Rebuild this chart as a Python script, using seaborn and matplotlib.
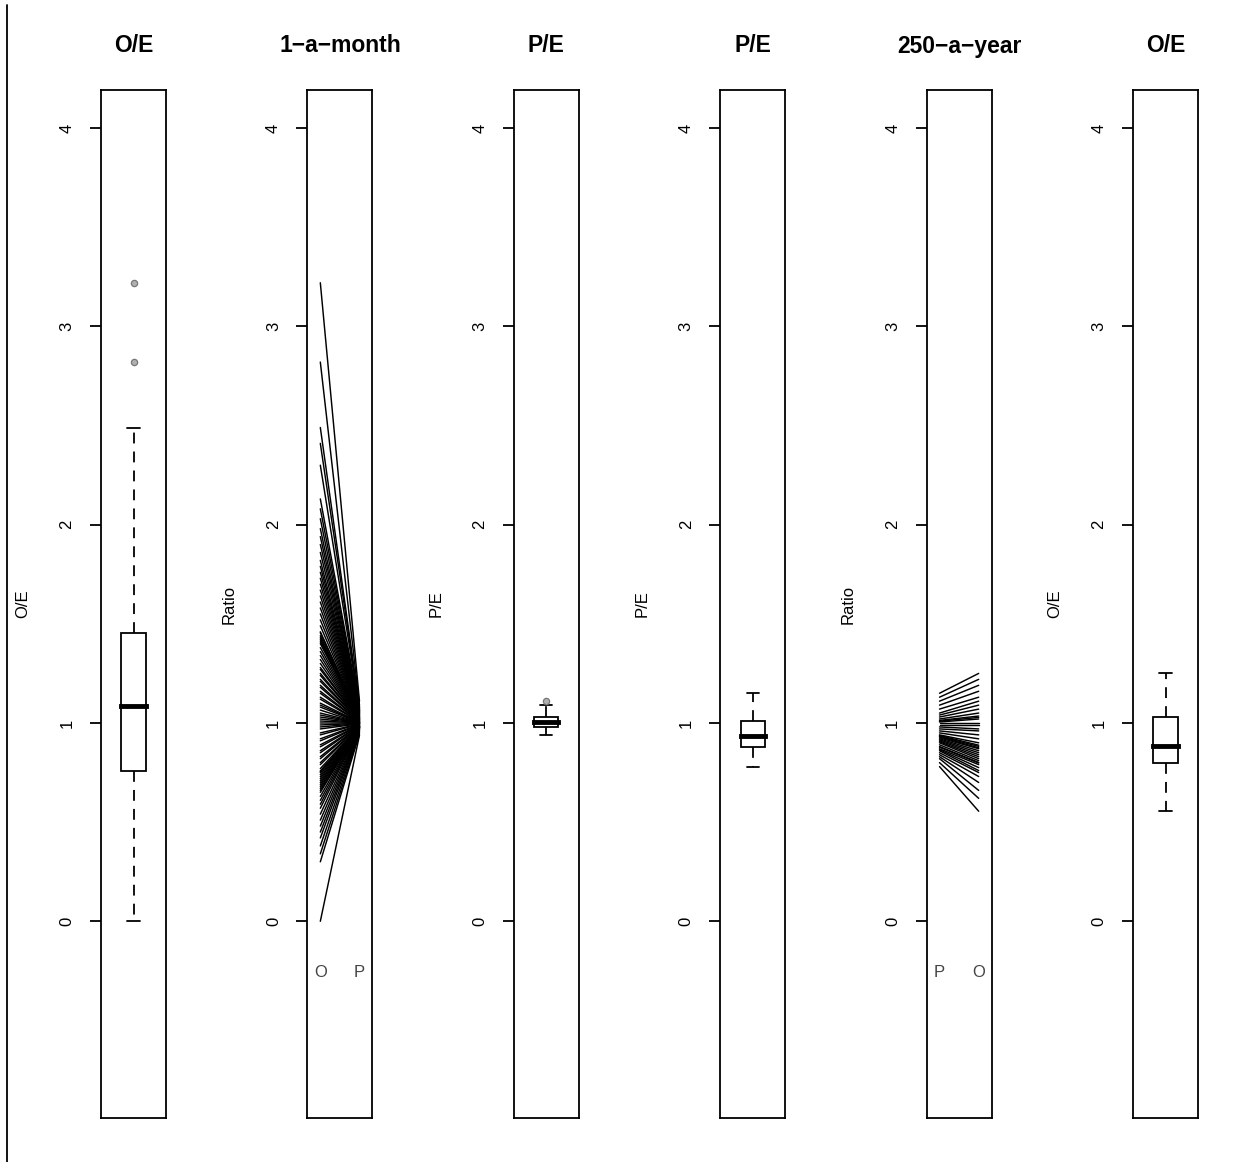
import matplotlib
matplotlib.use("Agg")
import matplotlib.pyplot as plt
import seaborn as sns
import pandas as pd
from matplotlib.lines import Line2D

# ---------------- data ----------------
titles = ["O/E", "1\u2212a\u2212month", "P/E", "P/E", "250\u2212a\u2212year", "O/E"]
ylabels = ["O/E", "Ratio", "P/E", "P/E", "Ratio", "O/E"]
yticks = [0, 1, 2, 3, 4]
month_pair_labels = ["O", "P"]
year_pair_labels = ["P", "O"]

# 1-a-month: observed / expected
month_oe = [
    0.00, 0.30, 0.34, 0.38, 0.42, 0.45, 0.48, 0.51, 0.54, 0.57,
    0.59, 0.61, 0.63, 0.65, 0.66, 0.67, 0.68, 0.69, 0.70, 0.71,
    0.72, 0.73, 0.74, 0.75, 0.755, 0.758, 0.77, 0.79, 0.80, 0.82,
    0.83, 0.85, 0.86, 0.88, 0.89, 0.91, 0.92, 0.94, 0.95, 0.97,
    0.98, 0.99, 1.00, 1.01, 1.02, 1.03, 1.04, 1.05, 1.065, 1.08,
    1.09, 1.10, 1.12, 1.13, 1.15, 1.16, 1.18, 1.19, 1.21, 1.22,
    1.24, 1.25, 1.27, 1.28, 1.30, 1.32, 1.34, 1.36, 1.38, 1.40,
    1.41, 1.42, 1.43, 1.44, 1.455, 1.46, 1.49, 1.52, 1.55, 1.58,
    1.61, 1.64, 1.67, 1.70, 1.73, 1.76, 1.79, 1.82, 1.86, 1.90,
    1.94, 1.98, 2.03, 2.08, 2.13, 2.30, 2.41, 2.49, 2.82, 3.22,
]
# 1-a-month: predicted / expected (paired with month_oe)
month_pe = [
    0.938, 0.945, 0.950, 0.955, 0.958, 0.961, 0.964, 0.966, 0.968, 0.970,
    0.972, 0.973, 0.974, 0.975, 0.976, 0.977, 0.978, 0.978, 0.979, 0.979,
    0.980, 0.980, 0.981, 0.981, 0.982, 0.982, 0.983, 0.984, 0.985, 0.986,
    0.987, 0.988, 0.989, 0.990, 0.991, 0.992, 0.993, 0.994, 0.995, 0.996,
    0.997, 0.998, 0.999, 1.000, 1.000, 1.001, 1.001, 1.002, 1.002, 1.003,
    1.003, 1.004, 1.005, 1.006, 1.007, 1.008, 1.009, 1.010, 1.011, 1.012,
    1.013, 1.014, 1.015, 1.016, 1.017, 1.018, 1.019, 1.020, 1.022, 1.023,
    1.024, 1.025, 1.027, 1.028, 1.030, 1.030, 1.032, 1.034, 1.036, 1.038,
    1.040, 1.042, 1.044, 1.046, 1.048, 1.050, 1.052, 1.054, 1.056, 1.058,
    1.060, 1.062, 1.064, 1.067, 1.070, 1.073, 1.077, 1.082, 1.090, 1.110,
]
# 250-a-year: predicted / expected
year_pe = [
    0.78, 0.80, 0.82, 0.83, 0.84, 0.85, 0.86, 0.865, 0.87, 0.878,
    0.881, 0.89, 0.90, 0.905, 0.91, 0.915, 0.92, 0.925, 0.93, 0.933,
    0.937, 0.94, 0.95, 0.96, 0.97, 0.98, 0.99, 1.00, 1.005, 1.009,
    1.013, 1.02, 1.03, 1.04, 1.05, 1.07, 1.09, 1.11, 1.13, 1.15,
]
# 250-a-year: observed / expected (paired with year_pe)
year_oe = [
    0.555, 0.62, 0.66, 0.70, 0.73, 0.75, 0.76, 0.775, 0.79, 0.798,
    0.801, 0.81, 0.82, 0.83, 0.84, 0.85, 0.86, 0.87, 0.875, 0.882,
    0.888, 0.90, 0.92, 0.94, 0.96, 0.97, 0.99, 1.00, 1.02, 1.028,
    1.035, 1.05, 1.07, 1.09, 1.11, 1.13, 1.16, 1.19, 1.22, 1.25,
]

# ---------------- style ----------------
LW = 1.3
sns.set_style("white", rc={
    "axes.edgecolor": "black",
    "axes.linewidth": LW,
    "ytick.left": True,
    "ytick.color": "black",
    "text.color": "black",
    "axes.labelcolor": "black",
})
plt.rcParams["font.family"] = ["Liberation Sans", "DejaVu Sans"]

W, H = 1235, 1162
fig = plt.figure(figsize=(W / 100, H / 100), dpi=100)

top_px, bottom_px, width_px = 90, 1118, 65
axes = []
for i in range(6):
    left_px = 101 + i * 206.4
    axes.append(fig.add_axes([left_px / W, (H - bottom_px) / H,
                              width_px / W, (bottom_px - top_px) / H]))


def finish(ax, ylabel, title):
    ax.set_ylim(-0.992, 4.192)
    ax.set_yticks(yticks)
    ax.set_yticklabels([str(t) for t in yticks], rotation=90, va="center")
    ax.set_xticks([])
    ax.set_xlabel("")
    ax.set_ylabel(ylabel, fontsize=12)
    ax.yaxis.set_label_coords(-1.085, 0.5)
    ax.set_title(title, fontsize=16.5, fontweight="bold", pad=27)
    ax.tick_params(axis="y", length=8, width=LW, pad=11, labelsize=12,
                   direction="out")
    for s in ax.spines.values():
        s.set_visible(True)
        s.set_linewidth(LW)
        s.set_color("black")


def draw_box(ax, values):
    sns.boxplot(
        y=values, ax=ax, width=0.4, color="white", linecolor="black",
        linewidth=LW, whis=1.5, fliersize=4.5,
        whiskerprops=dict(linestyle=(0, (6, 4.5))),
        medianprops=dict(linewidth=3.5, solid_capstyle="projecting"),
        flierprops=dict(marker="o", markerfacecolor="#b0b0b0",
                        markeredgecolor="#777777", markeredgewidth=0.9),
    )
    ax.set_xlim(-0.54, 0.54)


def draw_pairs(ax, left_vals, right_vals, labels):
    n = len(left_vals)
    df = pd.DataFrame({
        "pair": list(range(n)) * 2,
        "pos": [0] * n + [1] * n,
        "ratio": list(left_vals) + list(right_vals),
    })
    sns.lineplot(data=df, x="pos", y="ratio", units="pair", estimator=None,
                 color="black", linewidth=1.05, ax=ax, legend=False)
    ax.set_xlim(-0.33, 1.33)
    for pos, lab in enumerate(labels):
        ax.text(pos, -0.26, lab, ha="center", va="center", fontsize=12,
                color="#444444")


draw_box(axes[0], month_oe)
draw_pairs(axes[1], month_oe, month_pe, month_pair_labels)
draw_box(axes[2], month_pe)
draw_box(axes[3], year_pe)
draw_pairs(axes[4], year_pe, year_oe, year_pair_labels)
draw_box(axes[5], year_oe)

for ax, yl, t in zip(axes, ylabels, titles):
    finish(ax, yl, t)

# vertical rule at the left edge of the figure
fig.add_artist(Line2D([7 / W, 7 / W], [0, 1 - 5 / H], transform=fig.transFigure,
                      color="black", linewidth=LW))

fig.savefig("out.png", dpi=100, facecolor="white")
